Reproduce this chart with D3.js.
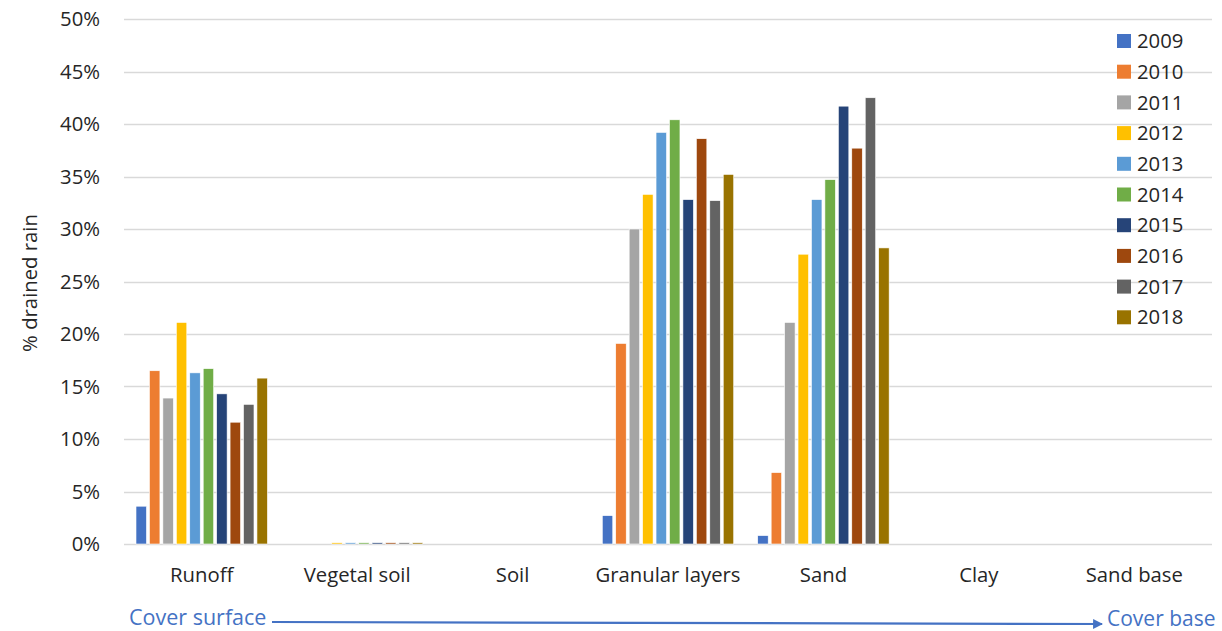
<!DOCTYPE html>
<html>
<head>
<meta charset="utf-8">
<script src="https://cdn.jsdelivr.net/npm/d3@7"></script>
<style>
  body { margin: 0; background: #fff; }
  text { font-family: "Open Sans", Lato, sans-serif; }
</style>
</head>
<body>
<div id="chart"></div>
<script>
// categories and series
var categories = ["Runoff", "Vegetal soil", "Soil", "Granular layers", "Sand", "Clay", "Sand base"];
var years = ["2009", "2010", "2011", "2012", "2013", "2014", "2015", "2016", "2017", "2018"];
var colors = ["#4472C4", "#ED7D31", "#A5A5A5", "#FFC000", "#5B9BD5", "#70AD47", "#264478", "#9E480E", "#636363", "#997300"];
var yTicks = [0, 5, 10, 15, 20, 25, 30, 35, 40, 45, 50];

// % drained rain per year, one value per category
var v2009 = [3.6, 0, 0, 2.7, 0.8, 0, 0];
var v2010 = [16.5, 0, 0, 19.1, 6.8, 0, 0];
var v2011 = [13.9, 0, 0, 30.0, 21.1, 0, 0];
var v2012 = [21.1, 0.12, 0, 33.3, 27.6, 0, 0];
var v2013 = [16.3, 0.12, 0, 39.2, 32.8, 0, 0];
var v2014 = [16.7, 0.12, 0, 40.4, 34.7, 0, 0];
var v2015 = [14.3, 0.12, 0, 32.8, 41.7, 0, 0];
var v2016 = [11.6, 0.12, 0, 38.6, 37.7, 0, 0];
var v2017 = [13.3, 0.12, 0, 32.7, 42.5, 0, 0];
var v2018 = [15.8, 0.12, 0, 35.2, 28.2, 0, 0];
var series = [v2009, v2010, v2011, v2012, v2013, v2014, v2015, v2016, v2017, v2018];

var width = 1222;
var height = 631;
var fs = 20.3;

var svg = d3.select("#chart")
    .append("svg")
    .attr("width", width)
    .attr("height", height);

var x = d3.scaleBand()
    .domain(categories)
    .range([124, 1212])
    .padding(0);

var xInner = d3.scaleBand()
    .domain(years)
    .range([12, x.bandwidth() - 12])
    .paddingInner(0.22)
    .paddingOuter(0);

var y = d3.scaleLinear()
    .domain([0, 50])
    .range([544, 19]);

// gridlines
svg.append("g")
    .selectAll("line")
    .data(yTicks)
    .join("line")
    .attr("x1", 124)
    .attr("x2", 1212)
    .attr("y1", d => Math.round(y(d)) + 0.5)
    .attr("y2", d => Math.round(y(d)) + 0.5)
    .attr("stroke", "#D9D9D9")
    .attr("stroke-width", 1.3);

// y axis labels
svg.append("g")
    .selectAll("text")
    .data(yTicks)
    .join("text")
    .attr("x", 100)
    .attr("y", d => y(d))
    .attr("dy", "0.35em")
    .attr("text-anchor", "end")
    .attr("font-size", fs)
    .attr("fill", "#262626")
    .text(d => d + "%");

svg.append("text")
    .attr("transform", "translate(37," + 283 + ") rotate(-90)")
    .attr("text-anchor", "middle")
    .attr("font-size", fs)
    .attr("fill", "#262626")
    .text("% drained rain");

// bars
var rows = [];
categories.forEach(function (c, ci) {
    years.forEach(function (yr, yi) {
        rows.push({ cat: c, year: yr, value: series[yi][ci], color: colors[yi] });
    });
});

svg.append("g")
    .selectAll("rect")
    .data(rows.filter(d => d.value > 0))
    .join("rect")
    .attr("x", d => x(d.cat) + xInner(d.year))
    .attr("y", d => y(d.value))
    .attr("width", xInner.bandwidth())
    .attr("height", d => y(0) - y(d.value))
    .attr("fill", d => d.color)
    .attr("stroke", "#fff")
    .attr("stroke-width", 0.6);

// category labels
svg.append("g")
    .selectAll("text")
    .data(categories)
    .join("text")
    .attr("x", d => x(d) + x.bandwidth() / 2)
    .attr("y", 582)
    .attr("text-anchor", "middle")
    .attr("font-size", fs)
    .attr("fill", "#262626")
    .text(d => d);

// legend
var legend = svg.append("g")
    .attr("transform", "translate(1117,41)");

var item = legend.selectAll("g")
    .data(years)
    .join("g")
    .attr("transform", (d, i) => "translate(0," + (i * 30.7) + ")");

item.append("rect")
    .attr("x", 0)
    .attr("y", -7)
    .attr("width", 14)
    .attr("height", 14)
    .attr("fill", (d, i) => colors[i]);

item.append("text")
    .attr("x", 20)
    .attr("y", 0)
    .attr("dy", "0.35em")
    .attr("font-size", fs)
    .attr("fill", "#262626")
    .text(d => d);

// cover surface -> cover base arrow
svg.append("defs").append("marker")
    .attr("id", "arrow")
    .attr("viewBox", "0 0 10 10")
    .attr("refX", 9)
    .attr("refY", 5)
    .attr("markerWidth", 4.5)
    .attr("markerHeight", 4.5)
    .attr("orient", "auto")
    .append("path")
    .attr("d", "M0,0 L10,5 L0,10 Z")
    .attr("fill", "#4472C4");

svg.append("line")
    .attr("x1", 272)
    .attr("x2", 1102)
    .attr("y1", 622)
    .attr("y2", 624)
    .attr("stroke", "#4472C4")
    .attr("stroke-width", 2.2)
    .attr("marker-end", "url(#arrow)");

svg.append("text")
    .attr("x", 129)
    .attr("y", 625)
    .attr("font-size", 21.5)
    .attr("fill", "#4472C4")
    .text("Cover surface");

svg.append("text")
    .attr("x", 1107)
    .attr("y", 626)
    .attr("font-size", 21)
    .attr("fill", "#4472C4")
    .text("Cover base");
</script>
</body>
</html>
